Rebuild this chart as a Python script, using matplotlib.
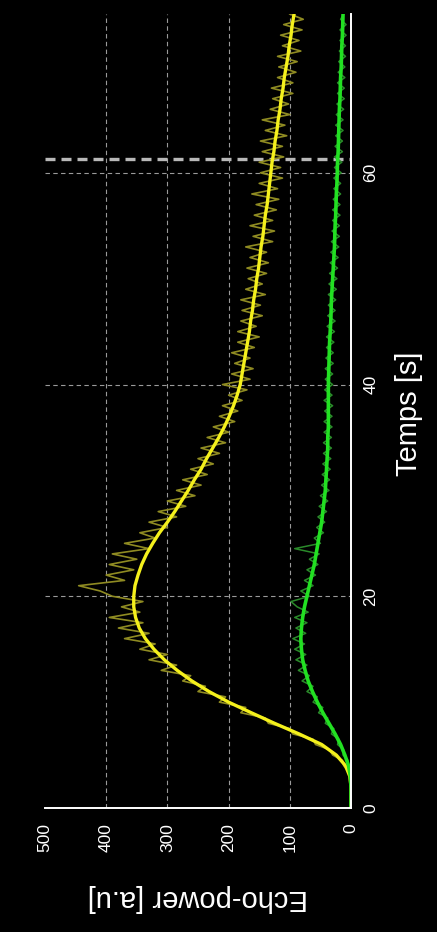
import numpy as np
import matplotlib
matplotlib.use("Agg")
import matplotlib.pyplot as plt

plt.rcParams['font.family'] = ['Liberation Sans', 'DejaVu Sans']

# ---- data ----
fit_time = list(range(0, 76))
yellow_fit = [0, 0, 0, 2, 9, 24, 48, 85, 125, 163,
              200, 232, 260, 284, 305, 322, 336, 346, 352, 355,
              355, 353, 348, 342, 334, 324, 313, 300, 288, 277,
              266, 256, 245, 236, 226, 216, 207, 199, 192, 186,
              181, 178, 175, 172, 169, 166, 164, 161, 159, 156,
              154, 151, 149, 147, 144, 142, 140, 137, 135, 133,
              131, 129, 126, 124, 121, 119, 116, 114, 111, 109,
              106, 103, 101, 98, 96, 93]
green_fit = [0, 0, 0, 1, 4, 10, 17, 26, 36, 46,
             55, 63, 70, 75, 79, 81, 82, 81, 79, 76,
             72, 68, 64, 60, 57, 54, 51, 48, 46, 44,
             42, 41, 40, 39, 38, 38, 37, 37, 37, 37,
             37, 36.5, 36, 35.5, 35, 34, 33, 32.5, 32, 31,
             30, 29, 28, 27, 26.5, 26, 25, 24.5, 24, 23,
             22.5, 22, 21, 20.5, 20, 19.5, 19, 18, 17.5, 17,
             16, 15.5, 15, 14, 13.5, 13]

# raw echo-power samples, every 0.5 s from t = 0
yellow_raw = [0, 0, 0, 0, 0, 0, 2,
              5, 12, 14, 30, 35, 58, 62, 95, 100, 135,
              140, 180, 172, 215, 205, 250, 238, 275, 262, 310,
              285, 330, 300, 345, 320, 370, 330, 380, 340, 395,
              345, 375, 340, 390, 410, 445, 370, 400, 355, 395,
              350, 390, 330, 370, 320, 345, 300, 330, 285, 315,
              270, 300, 255, 285, 245, 275, 235, 262, 225, 250,
              215, 245, 205, 235, 200, 225, 190, 215, 185, 210,
              178, 200, 170, 210, 165, 195, 160, 190, 165, 195,
              158, 185, 150, 185, 155, 180, 145, 178, 148, 180,
              140, 172, 145, 168, 138, 170, 135, 165, 138, 172,
              128, 160, 125, 165, 128, 158, 122, 155, 118, 162,
              120, 150, 112, 148, 115, 150, 110, 145, 112, 148,
              105, 140, 108, 145, 100, 132, 102, 128, 95, 130,
              95, 120, 90, 118, 88, 120, 82, 112, 85, 115,
              80, 110, 78, 100]
green_raw = [0, 0, 0, 0, 0, 0, 1,
             2, 6, 5, 13, 12, 22, 20, 32, 28, 42,
             38, 53, 46, 62, 55, 72, 62, 80, 68, 86,
             72, 90, 74, 92, 76, 95, 74, 90, 72, 92,
             70, 88, 98, 68, 82, 62, 76, 58, 72, 54,
             68, 52, 92, 50, 60, 45, 56, 43, 54, 40,
             52, 38, 50, 36, 48, 35, 47, 34, 46, 33,
             45, 32, 45, 32, 44, 31, 44, 31, 43, 30,
             44, 31, 43, 30, 42, 30, 42, 29, 41, 29,
             40, 28, 40, 27, 39, 26, 38, 26, 37, 25,
             37, 24, 36, 23, 35, 22, 34, 21, 33, 20,
             32, 19, 31, 19, 30, 18, 30, 18, 29, 17,
             28, 17, 28, 16, 27, 15, 27, 14, 26, 14,
             25, 13, 25, 13, 24, 12, 23, 11, 22, 11,
             22, 10, 21, 10, 20, 9, 19, 9, 18, 8,
             18, 8, 17, 12]
raw_time = [i * 0.5 for i in range(len(yellow_raw))]
green_time = [i * 0.5 for i in range(len(green_raw))]

power_ticks = [0, 100, 200, 300, 400, 500]
time_ticks = [0, 20, 40, 60]
marker_time = 61.3

# ---- figure ----
W, H = 437, 932
fig = plt.figure(figsize=(W / 100, H / 100), dpi=100, facecolor='black')
left, right, top, bottom = 45, 351, 14, 808
ax = fig.add_axes([left / W, (H - bottom) / H, (right - left) / W, (bottom - top) / H])
ax.set_facecolor('black')

ax.set_xlim(500, 0)
ax.set_ylim(0, 75)

grid_kw = dict(color='#9a9a9a', lw=0.8, ls=(0, (4, 3)), zorder=1)
for p in power_ticks[1:-1]:
    ax.axvline(p, **grid_kw)
for t in time_ticks[1:]:
    ax.axhline(t, **grid_kw)
ax.axhline(marker_time, color='#b8b8b8', lw=2.4, ls=(0, (3, 1.8)), zorder=2)

ax.plot(yellow_raw, raw_time, color='#8f8b22', lw=1.2, zorder=3)
ax.plot(green_raw, green_time, color='#2a8a2a', lw=1.1, zorder=3)
ax.plot(yellow_fit, fit_time, color='#f4f01c', lw=2.4, zorder=4, solid_capstyle='round')
ax.plot(green_fit, fit_time, color='#22e022', lw=2.6, zorder=4, solid_capstyle='round')

for s in ['top', 'left']:
    ax.spines[s].set_visible(False)
for s in ['right', 'bottom']:
    ax.spines[s].set_color('white')
    ax.spines[s].set_linewidth(1.4)
    ax.spines[s].set_zorder(5)

ax.set_xticks(power_ticks)
ax.set_xticklabels([str(p) for p in power_ticks])
ax.yaxis.tick_right()
ax.set_yticks(time_ticks)
ax.set_yticklabels([str(t) for t in time_ticks])
ax.tick_params(axis='x', length=0, pad=11, labelsize=12.5, colors='white', labelrotation=90)
ax.tick_params(axis='y', length=0, pad=9, labelsize=12.5, colors='white', labelrotation=90)
for lab in ax.get_yticklabels():
    lab.set_va('center')
    lab.set_ha('left')

ax.set_xlabel('Echo-power [a.u]', color='white', fontsize=21, rotation=180, va='center', ha='center')
ax.xaxis.set_label_coords(0.5, -0.1134)
ax.yaxis.set_label_position('right')
ax.set_ylabel('Temps [s]', color='white', fontsize=21, rotation=90, va='center', ha='center')
ax.yaxis.set_label_coords(1.19, 0.497)

fig.savefig('out.png', dpi=100, facecolor='black')
